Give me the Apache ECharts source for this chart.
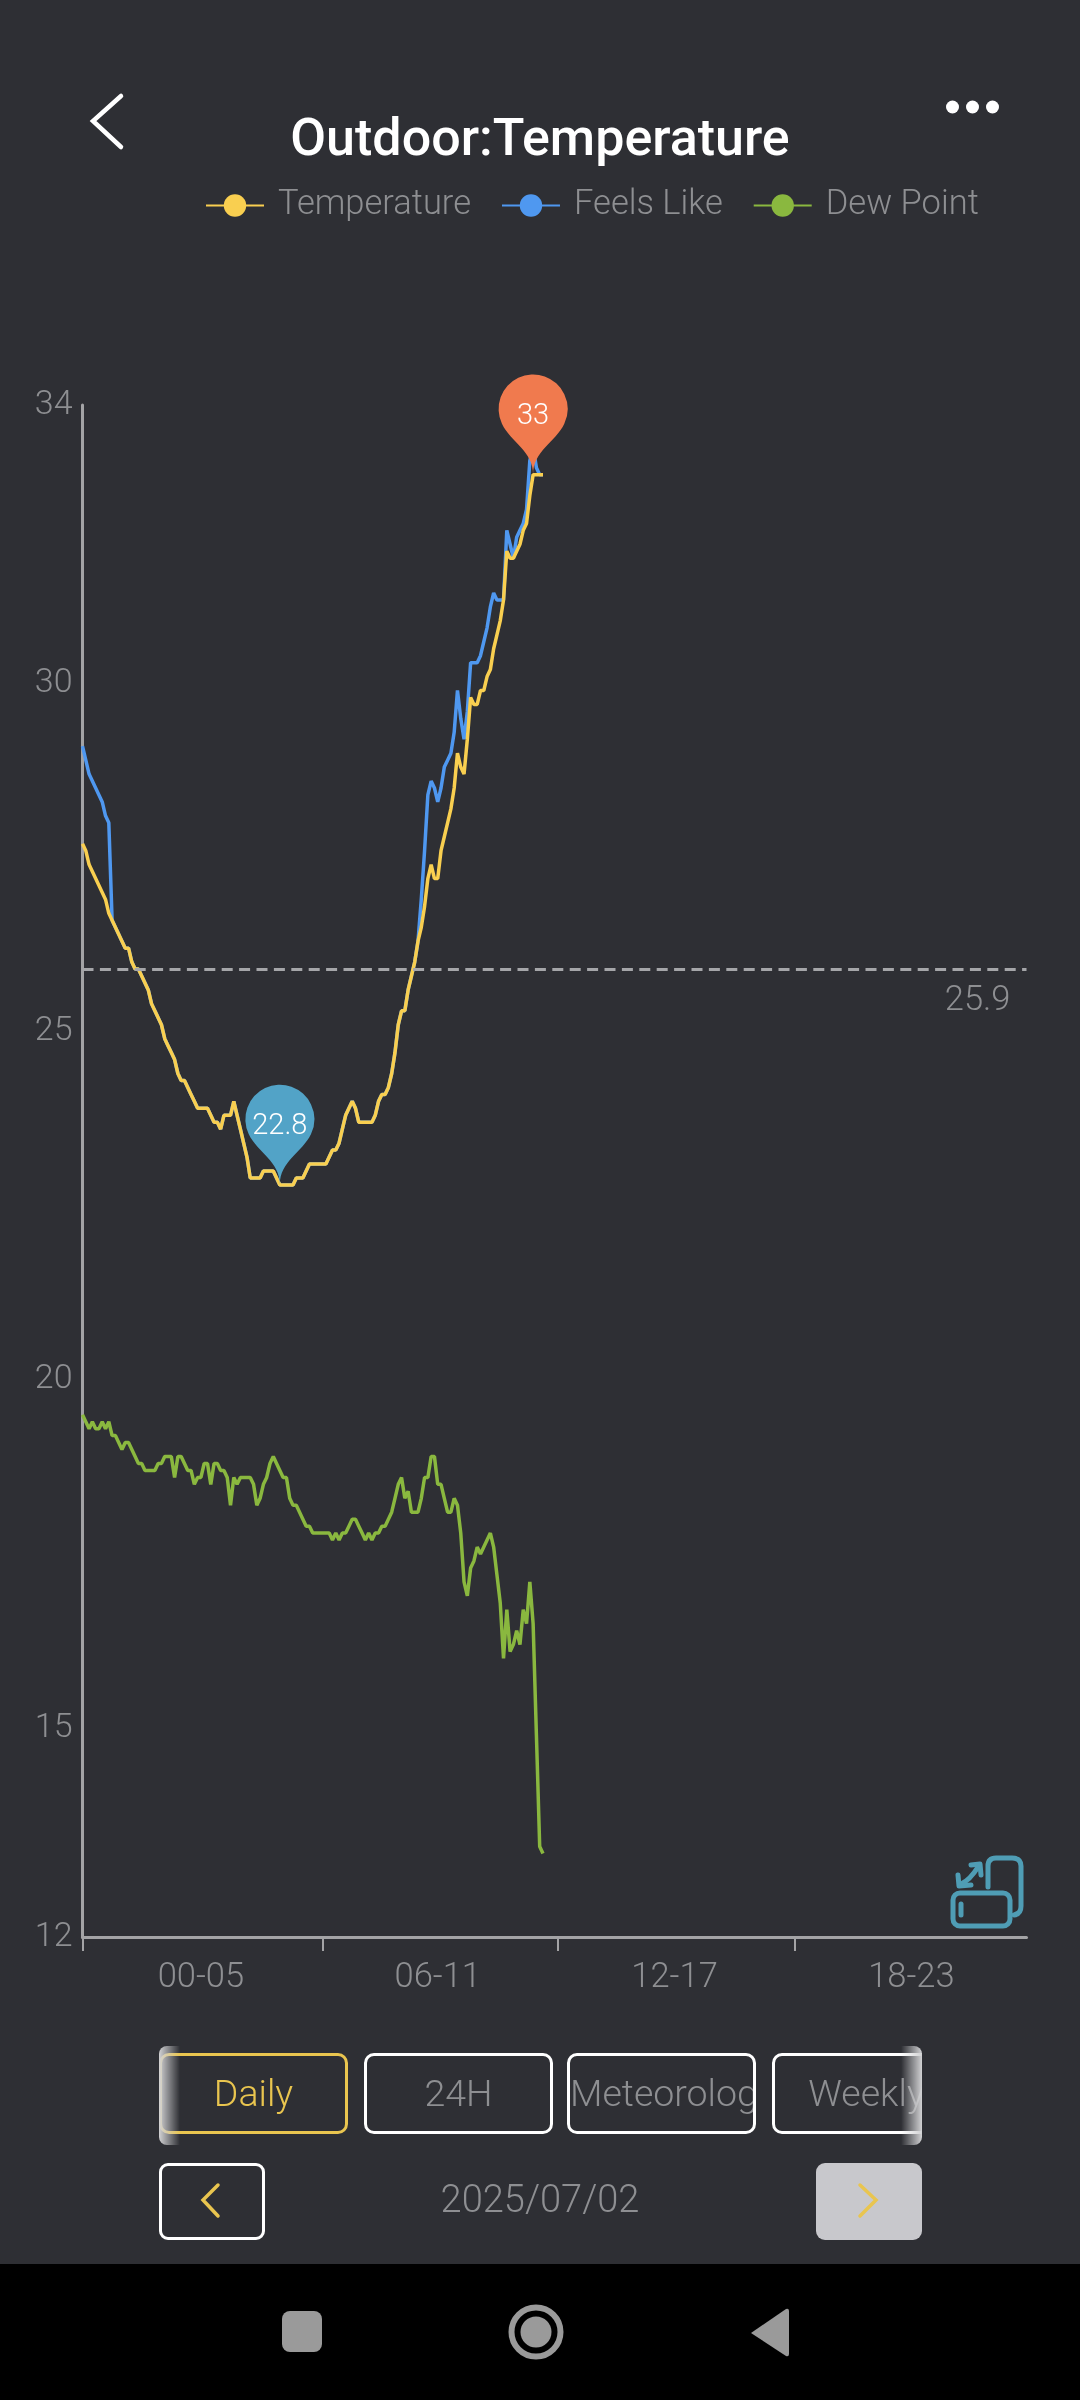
<!DOCTYPE html>
<html>
<head>
<meta charset="utf-8">
<title>Outdoor:Temperature</title>
<script src="https://cdn.jsdelivr.net/npm/echarts@6/dist/echarts.min.js"></script>
<style>
  html, body { margin: 0; padding: 0; background: #2e2f34; }
  #page { position: relative; width: 1080px; height: 2400px; overflow: hidden; background: #2e2f34; font-family: Roboto, sans-serif; font-weight: 300; }
  #chart { position: absolute; left: 0; top: 0; width: 1080px; height: 2400px; }
  svg.icons { position: absolute; left: 0; top: 0; width: 1080px; height: 2400px; pointer-events: none; }
  .tabs { position: absolute; left: 159px; top: 2046px; width: 763px; height: 99px; overflow: hidden; border-radius: 8px; }
  .tab { position: absolute; top: 7px; width: 189px; height: 81px; box-sizing: border-box; border: 3px solid #fff; border-radius: 10px; color: #8e8f92; font-size: 37.5px; line-height: 75px; text-align: center; white-space: nowrap; overflow: hidden; }
  .tab.on { border-color: #e9c54f; color: #e9c54f; }
  .tab.long { text-align: left; padding-left: 0; }
  .fade { position: absolute; top: 0; width: 21px; height: 99px; }
  .fade.l { left: 0; background: linear-gradient(to right, #d2d2d4, rgba(46,47,52,0)); }
  .fade.r { right: 0; background: linear-gradient(to left, #d2d2d4, rgba(46,47,52,0)); }
  .date { position: absolute; left: 340px; top: 2173px; width: 400px; text-align: center; color: #8e8f92; font-size: 38px; line-height: 52px; }
  .pager { position: absolute; top: 2163px; width: 106px; height: 77px; box-sizing: border-box; border-radius: 9px; }
  .pager.prev { left: 159px; border: 3px solid #fff; }
  .pager.next { left: 816px; background: #c8c8cc; }
  .navbar { position: absolute; left: 0; top: 2264px; width: 1080px; height: 136px; background: #000; }
</style>
</head>
<body>
<div id="page">
  <div id="chart"></div>
  <div class="tabs">
    <div class="tab on" style="left:0">Daily</div>
    <div class="tab" style="left:205px">24H</div>
    <div class="tab long" style="left:408px">Meteorology</div>
    <div class="tab" style="left:613px">Weekly</div>
    <div class="fade l"></div>
    <div class="fade r"></div>
  </div>
  <div class="pager prev"></div>
  <div class="pager next"></div>
  <div class="date">2025/07/02</div>
  <div class="navbar"></div>
  <svg class="icons" viewBox="0 0 1080 2400">
    <path d="M121 96 L93 121 L121 147" fill="none" stroke="#fff" stroke-width="4.5" stroke-linecap="round"/>
    <circle cx="952.5" cy="107" r="6.5" fill="#fff"/>
    <circle cx="972.5" cy="107" r="6.5" fill="#fff"/>
    <circle cx="992.5" cy="107" r="6.5" fill="#fff"/>
    <g fill="none" stroke="#4f9db5" stroke-width="5" stroke-linecap="round" stroke-linejoin="round">
      <path d="M988 1887 V1866 Q988 1858 996 1858 H1012 Q1021 1858 1021 1866 V1906 Q1021 1914 1014 1915"/>
      <rect x="953" y="1893" width="57" height="33" rx="7"/>
      <path d="M961 1904 V1915"/>
      <path d="M961 1884 Q970 1880 978 1867"/>
      <path d="M958 1875 L959 1886 L971 1885 M971 1865 L980 1864 L981 1875"/>
    </g>
    <path d="M218 2185 L203 2200 L218 2216" fill="none" stroke="#e9c54f" stroke-width="3.5" stroke-linecap="round"/>
    <path d="M860 2185 L876 2200 L860 2216" fill="none" stroke="#e9c54f" stroke-width="3.5" stroke-linecap="round"/>
    <rect x="282" y="2311" width="40" height="41" rx="8" fill="#9a9a9a"/>
    <circle cx="536" cy="2332" r="24.5" fill="none" stroke="#9a9a9a" stroke-width="6"/>
    <circle cx="536" cy="2332" r="15.5" fill="#9a9a9a"/>
    <path d="M751 2333 L786 2309 Q789 2308 789 2311 V2354 Q789 2357 786 2356 Z" fill="#9a9a9a"/>
  </svg>
</div>

<script>
  // one reading every 5 minutes, starting at midnight
  const seriesNames = ['Temperature', 'Feels Like', 'Dew Point']
  const timeRanges = ['00-05', '06-11', '12-17', '18-23']
  const yTicks = [12, 15, 20, 25, 30, 34]
  const lastSlot = 287
  const averageTemp = 25.87

  const temperature = [
    27.7, 27.6, 27.4, 27.3, 27.2, 27.1, 27.0, 26.9, 26.7, 26.6,
    26.5, 26.4, 26.3, 26.2, 26.2, 26.0, 25.9, 25.9, 25.8, 25.7,
    25.6, 25.4, 25.3, 25.2, 25.1, 24.9, 24.8, 24.7, 24.6, 24.4,
    24.3, 24.3, 24.2, 24.1, 24.0, 23.9, 23.9, 23.9, 23.9, 23.8,
    23.7, 23.7, 23.6, 23.8, 23.8, 23.8, 24.0, 23.8, 23.6, 23.4,
    23.2, 22.9, 22.9, 22.9, 22.9, 23.0, 23.0, 23.0, 23.0, 22.9,
    22.8, 22.8, 22.8, 22.8, 22.8, 22.9, 22.9, 22.9, 23.0, 23.1,
    23.1, 23.1, 23.1, 23.1, 23.1, 23.2, 23.3, 23.3, 23.4, 23.6,
    23.8, 23.9, 24.0, 23.9, 23.7, 23.7, 23.7, 23.7, 23.7, 23.8,
    24.0, 24.1, 24.1, 24.2, 24.4, 24.7, 25.1, 25.3, 25.3, 25.6,
    25.8, 26.0, 26.3, 26.5, 26.8, 27.2, 27.4, 27.2, 27.2, 27.6,
    27.8, 28.0, 28.2, 28.5, 29.0, 28.8, 28.7, 29.2, 29.8, 29.7,
    29.7, 29.9, 29.9, 30.1, 30.2, 30.5, 30.7, 30.9, 31.2, 31.9,
    31.8, 31.8, 31.9, 32.0, 32.2, 32.3, 32.7, 33.0, 33.0, 33.0,
    33.0
  ]

  const feelsLike = [
    29.1, 28.9, 28.7, 28.6, 28.5, 28.4, 28.3, 28.1, 28.0, 26.6,
    26.5, 26.4, 26.3, 26.2, 26.2, 26.0, 25.9, 25.9, 25.8, 25.7,
    25.6, 25.4, 25.3, 25.2, 25.1, 24.9, 24.8, 24.7, 24.6, 24.4,
    24.3, 24.3, 24.2, 24.1, 24.0, 23.9, 23.9, 23.9, 23.9, 23.8,
    23.7, 23.7, 23.6, 23.8, 23.8, 23.8, 24.0, 23.8, 23.6, 23.4,
    23.2, 22.9, 22.9, 22.9, 22.9, 23.0, 23.0, 23.0, 23.0, 22.9,
    22.8, 22.8, 22.8, 22.8, 22.8, 22.9, 22.9, 22.9, 23.0, 23.1,
    23.1, 23.1, 23.1, 23.1, 23.1, 23.2, 23.3, 23.3, 23.4, 23.6,
    23.8, 23.9, 24.0, 23.9, 23.7, 23.7, 23.7, 23.7, 23.7, 23.8,
    24.0, 24.1, 24.1, 24.2, 24.4, 24.7, 25.1, 25.3, 25.3, 25.6,
    25.8, 26.0, 26.3, 26.9, 27.6, 28.4, 28.6, 28.5, 28.3, 28.5,
    28.8, 28.9, 29.0, 29.3, 29.9, 29.5, 29.2, 29.6, 30.3, 30.3,
    30.3, 30.4, 30.6, 30.8, 31.1, 31.3, 31.2, 31.2, 31.2, 32.2,
    32.0, 31.8, 32.1, 32.2, 32.3, 32.5, 33.2, 33.4, 33.1, 33.0,
    33.0
  ]

  const dewPoint = [
    19.5, 19.4, 19.3, 19.4, 19.3, 19.3, 19.4, 19.3, 19.4, 19.2,
    19.2, 19.1, 19.0, 19.1, 19.1, 19.0, 18.9, 18.8, 18.8, 18.7,
    18.7, 18.7, 18.7, 18.8, 18.8, 18.9, 18.9, 18.9, 18.6, 18.9,
    18.9, 18.8, 18.7, 18.7, 18.5, 18.6, 18.6, 18.8, 18.8, 18.5,
    18.8, 18.8, 18.7, 18.7, 18.6, 18.2, 18.6, 18.5, 18.6, 18.6,
    18.6, 18.6, 18.5, 18.2, 18.3, 18.5, 18.6, 18.8, 18.9, 18.8,
    18.7, 18.6, 18.6, 18.3, 18.2, 18.2, 18.1, 18.0, 17.9, 17.9,
    17.8, 17.8, 17.8, 17.8, 17.8, 17.8, 17.7, 17.8, 17.7, 17.8,
    17.8, 17.9, 18.0, 18.0, 17.9, 17.8, 17.7, 17.8, 17.7, 17.8,
    17.8, 17.9, 17.9, 18.0, 18.1, 18.3, 18.5, 18.6, 18.3, 18.4,
    18.1, 18.1, 18.1, 18.3, 18.6, 18.6, 18.9, 18.9, 18.5, 18.5,
    18.3, 18.1, 18.1, 18.3, 18.2, 17.8, 17.1, 16.9, 17.3, 17.4,
    17.6, 17.5, 17.6, 17.7, 17.8, 17.6, 17.2, 16.8, 16.0, 16.7,
    16.1, 16.2, 16.4, 16.2, 16.7, 16.5, 17.1, 16.5, 14.9, 13.3,
    13.2
  ]

  const grey = '#8e8f92'
  const axisGrey = '#a3a3a5'
  const labelFont = 'Roboto'

  function toPoints (values) {
    return values.map(function (v, i) { return [i, v] })
  }

  let myChart = echarts.init(document.getElementById('chart'), null, {width: 1080, height: 2400})
  myChart.setOption({
    animation: false,
    backgroundColor: '#2e2f34',
    title: {
      text: 'Outdoor:Temperature',
      left: 'center',
      top: 111,
      textStyle: {color: '#fff', fontFamily: labelFont, fontSize: 52, fontWeight: 500}
    },
    legend: {
      data: seriesNames,
      left: 200,
      top: 183,
      itemWidth: 58,
      itemHeight: 28,
      itemGap: 30,
      textStyle: {color: grey, fontFamily: labelFont, fontSize: 34.5, fontWeight: 300, padding: [0, 0, 0, 9]}
    },
    grid: {left: 82.5, top: 405, width: 944, height: 1532},
    xAxis: {
      type: 'value',
      min: 0,
      max: lastSlot,
      splitLine: {show: false},
      axisLine: {onZero: false, lineStyle: {color: axisGrey, width: 3}},
      axisTick: {length: 14, customValues: [0, 73, 144.5, 216.5], lineStyle: {color: axisGrey, width: 2}},
      axisLabel: {
        customValues: [36, 108, 180, 252],
        margin: 24,
        color: grey,
        fontFamily: labelFont,
        fontSize: 34.5,
        fontWeight: 300,
        formatter: function (v) { return timeRanges[(v - 36) / 72] }
      }
    },
    yAxis: {
      type: 'value',
      min: 12,
      max: 34,
      splitLine: {show: false},
      axisLine: {show: true, onZero: false, lineStyle: {color: axisGrey, width: 3}},
      axisTick: {show: false},
      axisLabel: {customValues: yTicks, margin: 10, color: grey, fontFamily: labelFont, fontSize: 34, fontWeight: 300, padding: [5, 0, 0, 0]}
    },
    series: [{
      name: seriesNames[1],
      type: 'line',
      z: 2,
      data: toPoints(feelsLike),
      symbol: 'circle',
      showSymbol: false,
      itemStyle: {color: '#4f98f0'},
      lineStyle: {color: '#4f98f0', width: 3.5}
    }, {
      name: seriesNames[0],
      type: 'line',
      z: 3,
      data: toPoints(temperature),
      symbol: 'circle',
      showSymbol: false,
      itemStyle: {color: '#f9cf50'},
      lineStyle: {color: '#f9cf50', width: 3.5},
      markLine: {
        silent: true,
        symbol: 'none',
        precision: 1,
        lineStyle: {color: '#a5a6a9', type: [11, 6.4], width: 3},
        label: {position: 'insideEndBottom', color: grey, fontFamily: labelFont, fontSize: 34.5, fontWeight: 300, distance: 12, offset: [-4, 3]},
        data: [{yAxis: averageTemp}]
      },
      markPoint: {
        symbol: 'pin',
        symbolSize: 115,
        label: {color: '#fff', fontFamily: labelFont, fontSize: 29, fontWeight: 300, offset: [0, 2]},
        data: [
          {type: 'max', valueDim: 'y', itemStyle: {color: '#f07a4e'}},
          {type: 'min', valueDim: 'y', itemStyle: {color: '#52a3c7'}}
        ]
      }
    }, {
      name: seriesNames[2],
      type: 'line',
      z: 2,
      data: toPoints(dewPoint),
      symbol: 'circle',
      showSymbol: false,
      itemStyle: {color: '#8ab83f'},
      lineStyle: {color: '#8ab83f', width: 3.5}
    }]
  })
</script>
</body>
</html>
